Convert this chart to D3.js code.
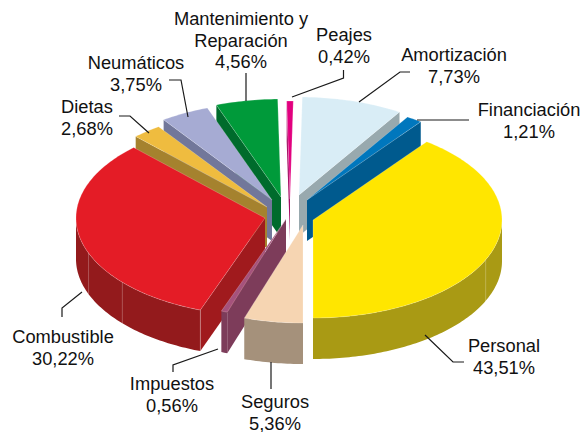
<!DOCTYPE html>
<html>
<head>
<meta charset="utf-8">
<script src="https://cdn.jsdelivr.net/npm/d3@7"></script>
<style>
  html, body { margin: 0; padding: 0; background: #fff; }
  svg { display: block; }
</style>
</head>
<body>
<svg width="583" height="432"></svg>
<script>
// Data, clockwise from the top of the pie
const categories = ["Amortización", "Financiación", "Personal", "Seguros", "Impuestos",
                    "Combustible", "Dietas", "Neumáticos", "Mantenimiento y Reparación", "Peajes"];
const shares = [7.73, 1.21, 43.51, 5.36, 0.56, 30.22, 2.68, 3.75, 4.56, 0.42];

// Colours: top face, radial cut face, outer wall
const topColors  = ["#d9edf6", "#0077bd", "#ffe600", "#f6d5b2", "#a5527c", "#e41c26", "#efbc3f", "#a6abd3", "#009a3a", "#e2007f"];
const cutColors  = ["#98a9ae", "#005a8e", "#a99a14", "#a5917b", "#7d3c5a", "#a01a1d", "#a5822e", "#72779a", "#006b2c", "#a40b62"];
const wallColors = ["#98a9ae", "#005a8e", "#a99a14", "#a5917b", "#7d3c5a", "#931a1c", "#a5822e", "#72779a", "#006b2c", "#a40b62"];

// How far each slice is pulled out of the centre, [x, y]
const pull = [[10, -14], [18, -9], [24, 11], [14, 16], [-3, 10], [-24, 9], [-22, -2], [-17, -9], [-8, -12], [1, -10]];
// Back to front
const drawOrder = [8, 7, 6, 9, 0, 1, 5, 4, 2, 3];

// The drawing is a little off true proportions, so pie angles go through this
const sweepFrom = [0, 8.94, 52.45, 58.37, 88.59, 91.27, 95.02, 99.58, 100];
const sweepTo   = [1, 37, 180, 200, 316, 325, 340, 359, 361];

// Pale seams on the outer wall: slice index, degrees clockwise from the top
const seams = [[2, 114], [5, 229], [5, 249], [5, 200]];

const labels = [
  {lines: ["Amortización", "7,73%"], x: 454, y: 61},
  {lines: ["Financiación", "1,21%"], x: 529, y: 116},
  {lines: ["Personal", "43,51%"], x: 504, y: 352},
  {lines: ["Seguros", "5,36%"], x: 275, y: 408},
  {lines: ["Impuestos", "0,56%"], x: 172, y: 390},
  {lines: ["Combustible", "30,22%"], x: 63, y: 343},
  {lines: ["Dietas", "2,68%"], x: 87, y: 113},
  {lines: ["Neumáticos", "3,75%"], x: 136, y: 69},
  {lines: ["Mantenimiento y", "Reparación", "4,56%"], x: 241, y: 25},
  {lines: ["Peajes", "0,42%"], x: 344, y: 41}
];
const leaders = [
  [[410, 72], [400, 72], [359, 102]],
  [[417, 120], [469, 120]],
  [[425, 335], [453, 362], [464, 362]],
  [[271, 362], [271, 389]],
  [[218, 349], [173, 365], [173, 372]],
  [[82, 292], [62, 308], [62, 317]],
  [[119, 116], [130, 116], [149, 133]],
  [[169, 80], [181, 80], [188, 117]],
  [[246, 73], [246, 101]],
  [[343.5, 70], [343.5, 78], [292, 97]]
];

const svg = d3.select("svg");
const cx = 289, cy = 209, rx = 189, ry = 98, depth = 41;
const rad = Math.PI / 180;

const sweep = d3.scaleLinear()
  .domain(sweepFrom.map(d => d / 100 * 2 * Math.PI))
  .range(sweepTo.map(d => d * rad));

const arcs = d3.pie().sort(null).value(d => d)(shares).map(d => ({
  index: d.index,
  start: sweep(d.startAngle),
  end: sweep(d.endAngle)
}));

const line = d3.line();
const closed = pts => line(pts) + "Z";

// Point on the rim of slice i at angle a, dropped by z
const rim = (i, a, z) => [
  cx + pull[i][0] + rx * Math.sin(a),
  cy + pull[i][1] - ry * Math.cos(a) + z
];
const apex = (i, z) => [cx + pull[i][0], cy + pull[i][1] + z];
const arcPts = (i, a0, a1, z) => {
  const n = Math.max(2, Math.ceil(Math.abs(a1 - a0) / rad));
  return d3.range(n + 1).map(k => rim(i, a0 + (a1 - a0) * k / n, z));
};

const slices = svg.append("g").selectAll("g")
  .data(drawOrder.map(i => arcs[i]))
  .join("g");

// Radial cut face: trailing edge on the right half, leading edge on the left
slices.each(function(d) {
  const g = d3.select(this);
  const i = d.index;
  const cuts = [];
  if (d.end > 0 && d.end < Math.PI - 0.001) cuts.push(d.end);
  if (d.start > Math.PI + 0.001) cuts.push(d.start);
  cuts.forEach(a => {
    g.append("path")
      .attr("d", closed([apex(i, 0), rim(i, a, 0), rim(i, a, depth), apex(i, depth)]))
      .attr("fill", cutColors[i]);
  });

  // Outer wall, only the part facing us
  const a0 = Math.max(d.start, Math.PI / 2), a1 = Math.min(d.end, 3 * Math.PI / 2);
  if (a1 > a0) {
    g.append("path")
      .attr("d", closed(arcPts(i, a0, a1, 0).concat(arcPts(i, a1, a0, depth))))
      .attr("fill", wallColors[i]);
  }

  g.append("path")
    .attr("d", closed([apex(i, 0)].concat(arcPts(i, d.start, d.end, 0))))
    .attr("fill", topColors[i])
    .attr("stroke", "#fff")
    .attr("stroke-opacity", 0.35)
    .attr("stroke-width", 0.6);
});

// Seams
svg.append("g").selectAll("path")
  .data(seams)
  .join("path")
  .attr("d", d => line([rim(d[0], d[1] * rad, 0), rim(d[0], d[1] * rad, depth)]))
  .attr("stroke", "#fff")
  .attr("stroke-opacity", 0.25)
  .attr("stroke-width", 1)
  .attr("fill", "none");

// Leader lines
svg.append("g").selectAll("path")
  .data(leaders)
  .join("path")
  .attr("d", d => line(d))
  .attr("fill", "none")
  .attr("stroke", "#1a1a1a")
  .attr("stroke-width", 1.2);

// Labels
const text = svg.append("g").selectAll("text")
  .data(labels)
  .join("text")
  .attr("text-anchor", "middle")
  .attr("font-family", "'Liberation Sans', Arial, sans-serif")
  .attr("font-size", "18.3px")
  .attr("fill", "#111");

text.selectAll("tspan")
  .data(d => d.lines.map((t, k) => ({t, k, x: d.x, y: d.y})))
  .join("tspan")
  .attr("x", d => d.x)
  .attr("y", d => d.y + d.k * 21.5)
  .text(d => d.t);
</script>
</body>
</html>
